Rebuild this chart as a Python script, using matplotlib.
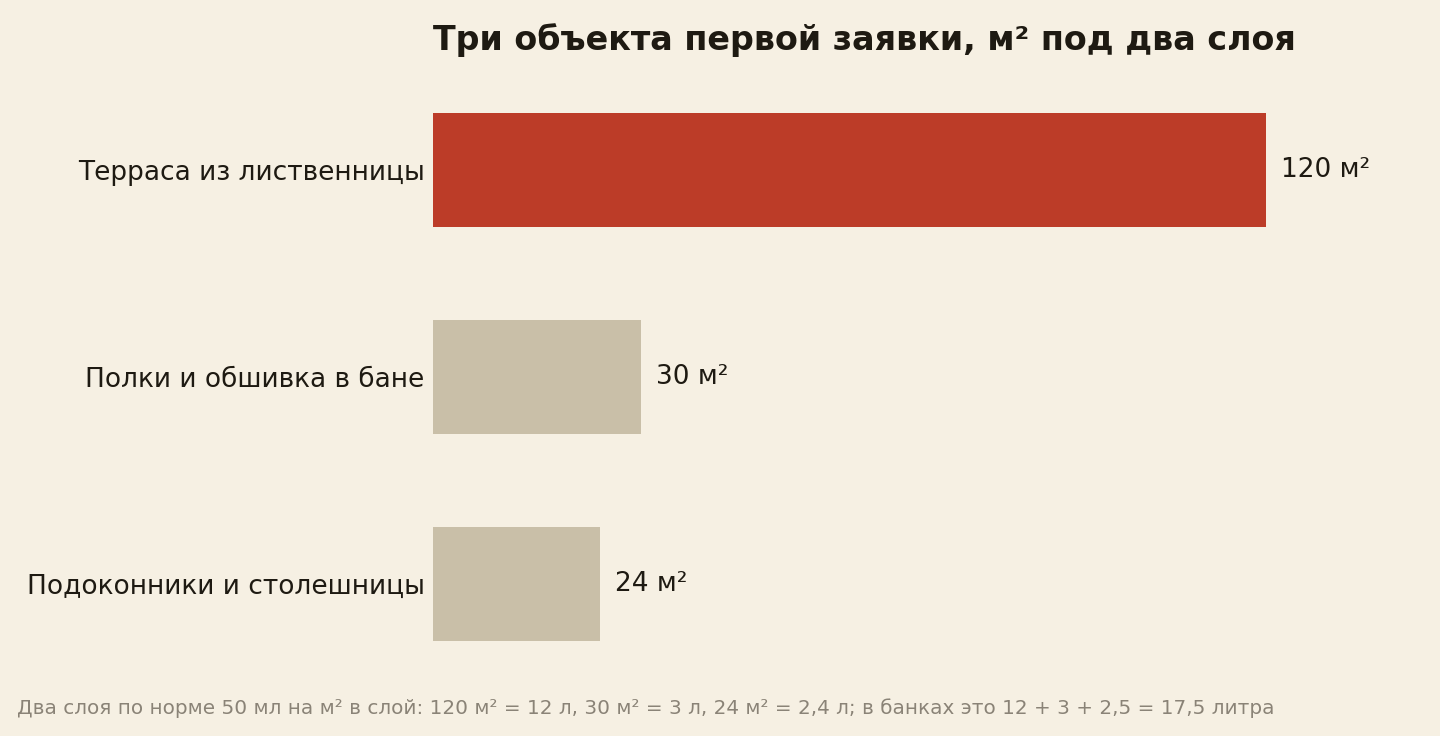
import matplotlib
matplotlib.use("Agg")
import matplotlib.pyplot as plt

categories = ['Терраса из лиственницы', 'Полки и обшивка в бане', 'Подоконники и столешницы']
areas = [120, 30, 24]
value_labels = ['120 м²', '30 м²', '24 м²']
title = 'Три объекта первой заявки, м² под два слоя'
footnote = 'Два слоя по норме 50 мл на м² в слой: 120 м² = 12 л, 30 м² = 3 л, 24 м² = 2,4 л; в банках это 12 + 3 + 2,5 = 17,5 литра'

bg = '#f6f0e3'
ink = '#1e1a12'
bar_colors = ['#bc3c28', '#c9bfa8', '#c9bfa8']

plt.rcParams['font.family'] = ['DejaVu Sans']

fig = plt.figure(figsize=(14.4, 7.36), dpi=100, facecolor=bg)
ax = fig.add_axes([433 / 1440, 1 - 687.5 / 736, (1349 - 433) / 1440, (687.5 - 66.5) / 736])
ax.set_facecolor(bg)

y = list(range(len(categories)))
ax.barh(y, areas, height=0.55, color=bar_colors)
ax.set_xlim(0, 132)
ax.set_ylim(2.5, -0.5)

ax.set_yticks(y)
ax.set_yticklabels(categories, fontsize=19, color=ink)
ax.tick_params(axis='y', length=0, pad=6)
ax.set_xticks([])
for s in ax.spines.values():
    s.set_visible(False)

# подписи значений справа от баров
for yi, v, lab in zip(y, areas, value_labels):
    ax.annotate(lab, (v, yi), xytext=(15, 0), textcoords='offset pixels',
                va='center', ha='left', fontsize=19, color=ink)

fig.text(433 / 1440, 1 - 40 / 736, title, fontsize=24, fontweight='bold',
         color=ink, ha='left', va='center')
fig.text(17 / 1440, 1 - 708 / 736, footnote, fontsize=14.4, color='#8a8377',
         ha='left', va='center')

fig.savefig('out.png', dpi=100, facecolor=bg)
